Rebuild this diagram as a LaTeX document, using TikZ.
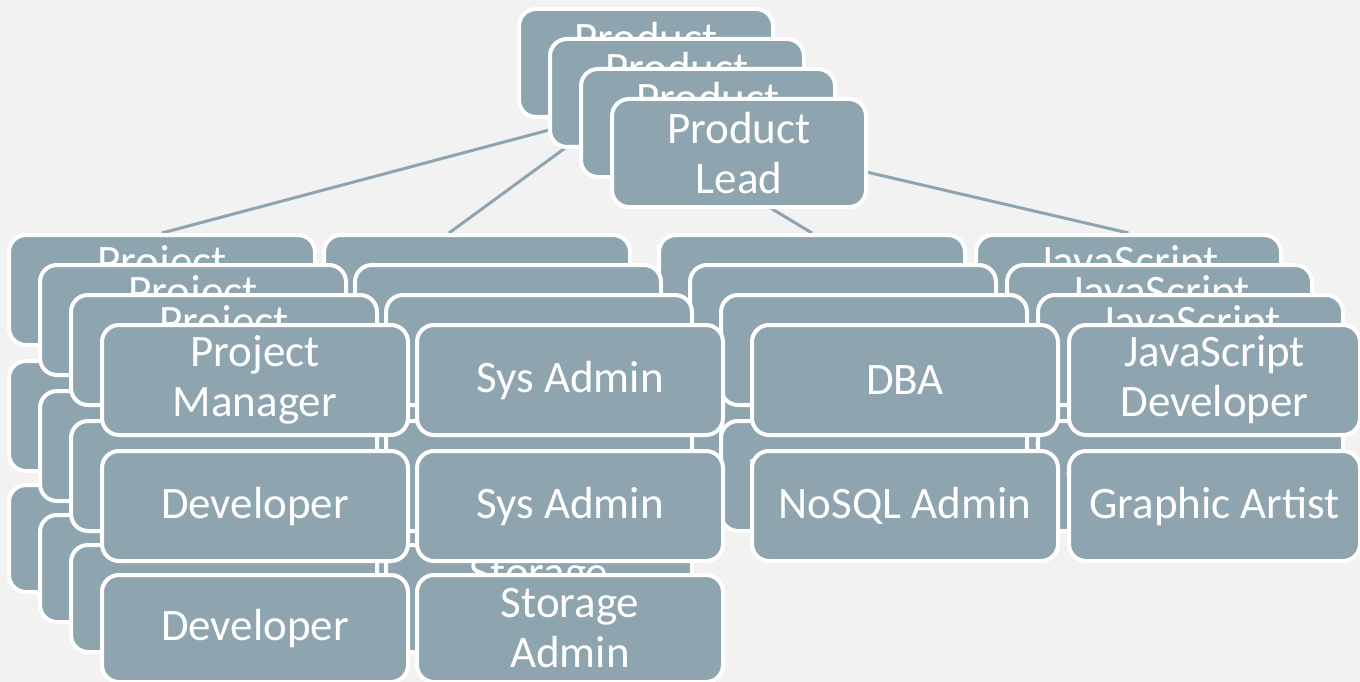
\documentclass[tikz,border=0pt]{standalone}
\usepackage{fontspec}
\setmainfont{Carlito}
\usetikzlibrary{calc}
\definecolor{slate}{RGB}{142,165,176}
\definecolor{paper}{RGB}{242,242,242}
\pgfdeclarelayer{links}
\pgfsetlayers{links,main}
\tikzset{
	role/.style={rectangle, rounded corners=17pt, fill=slate, draw=white, line width=4pt,
		text=white, align=center, inner sep=0pt, anchor=north west,
		minimum width=306pt, minimum height=110pt, font=\fontsize{45}{50}\selectfont},
	link/.style={draw=slate, line width=3pt}
}

\begin{document}
\begin{tikzpicture}[x=1pt, y=-1pt]
		\useasboundingbox (0,0) rectangle (1360,682);
		\begin{pgfonlayer}{links}
			\fill[paper] (0,0) rectangle (1360,682);
		\end{pgfonlayer}
		% four stacked copies of the chart, back to front
		\foreach \l in {0,1,2,3} {
			\pgfmathsetmacro{\jsw}{\l==3 ? 291 : 305}
			\begin{scope}[shift={({31*\l},{30*\l})}]
				\node[role, minimum width=254pt, minimum height=108pt] (pl\l) at (517,7) {Product\\Lead};
				\node[role] (pm\l) at (7,233) {Project\\Manager};
				\node[role] (sa\l) at (322,233) {Sys Admin};
				\node[role] (dba\l) at (657,233) {DBA};
				\node[role, minimum width=\jsw pt] (js\l) at (974,233) {JavaScript\\Developer};
				\node[role] (dev\l) at (7,359) {Developer};
				\node[role] (sb\l) at (322,359) {Sys Admin};
				\node[role] (nosql\l) at (657,359) {NoSQL Admin};
				\node[role, minimum width=\jsw pt] (ga\l) at (974,359) {Graphic Artist};
				\node[role, minimum height=107pt] (devb\l) at (7,483) {Developer};
				\node[role, minimum height=107pt] (st\l) at (322,483) {Storage\\Admin};
			\end{scope}
		}
		\begin{pgfonlayer}{links}
			\coordinate (hub) at (613,113);
			\draw[link] (hub) -- (pm0.north);
			\draw[link] (hub) -- ($(sa0.north)+(-28,0)$);
			\draw[link] (hub) -- (dba0.north);
			\draw[link] (hub) -- (js0.north);
		\end{pgfonlayer}
	\end{tikzpicture}
\end{document}
